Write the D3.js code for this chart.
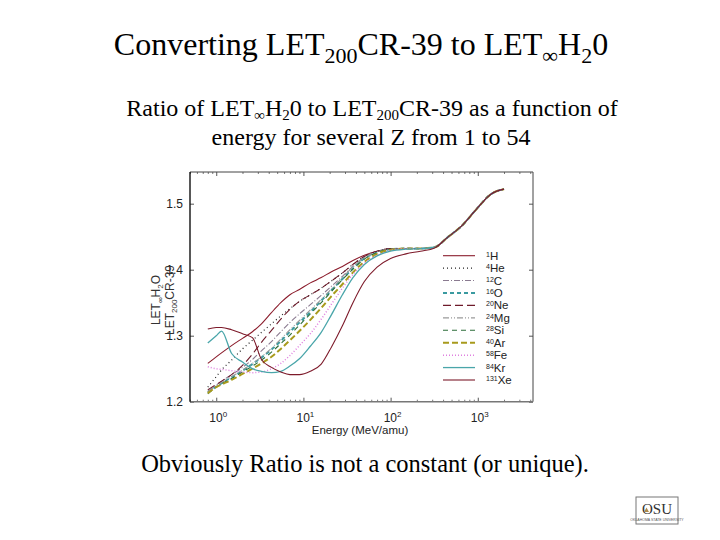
<!DOCTYPE html>
<html>
<head>
<meta charset="utf-8">
<script src="https://cdn.jsdelivr.net/npm/d3@7"></script>
<style>
  body { margin: 0; background: #fff; }
  svg { display: block; }
</style>
</head>
<body>
<script>
// energies (MeV/amu) shared by every curve
var energies = [0.8, 1.0, 1.15, 1.5, 2, 2.6, 3.3, 4.3, 5.5, 7, 9, 12, 16, 21, 28, 37, 50, 70, 100, 150, 220, 320, 450, 650, 1000, 1400, 2000];

// ratio LET_inf(H2O) / LET_200(CR-39)
var ratioH  = [1.258, 1.268, 1.274, 1.285, 1.296, 1.306, 1.318, 1.335, 1.350, 1.362, 1.370, 1.380, 1.388, 1.397, 1.405, 1.414, 1.422, 1.428, 1.431, 1.432, 1.432, 1.434, 1.449, 1.466, 1.494, 1.514, 1.522];
var ratioHe = [1.222, 1.238, 1.248, 1.263, 1.280, 1.293, 1.305, 1.318, 1.330, 1.341, 1.352, 1.362, 1.372, 1.383, 1.395, 1.408, 1.420, 1.428, 1.432, 1.432, 1.432, 1.434, 1.449, 1.466, 1.494, 1.514, 1.522];
var ratioC  = [1.216, 1.225, 1.231, 1.241, 1.252, 1.264, 1.277, 1.291, 1.306, 1.320, 1.333, 1.347, 1.361, 1.375, 1.390, 1.405, 1.419, 1.428, 1.432, 1.432, 1.432, 1.434, 1.449, 1.466, 1.494, 1.514, 1.522];
var ratioO  = [1.214, 1.223, 1.228, 1.237, 1.247, 1.257, 1.267, 1.279, 1.292, 1.306, 1.320, 1.336, 1.353, 1.369, 1.386, 1.402, 1.417, 1.426, 1.431, 1.432, 1.432, 1.434, 1.449, 1.466, 1.494, 1.514, 1.522];
var ratioNe = [1.218, 1.226, 1.231, 1.241, 1.255, 1.272, 1.290, 1.308, 1.325, 1.340, 1.352, 1.362, 1.372, 1.383, 1.395, 1.408, 1.420, 1.428, 1.432, 1.432, 1.432, 1.434, 1.449, 1.466, 1.494, 1.514, 1.522];
var ratioMg = [1.215, 1.224, 1.229, 1.238, 1.248, 1.258, 1.268, 1.281, 1.295, 1.309, 1.323, 1.339, 1.355, 1.371, 1.388, 1.404, 1.418, 1.427, 1.431, 1.432, 1.432, 1.434, 1.449, 1.466, 1.494, 1.514, 1.522];
var ratioSi = [1.212, 1.222, 1.227, 1.235, 1.245, 1.254, 1.263, 1.275, 1.288, 1.301, 1.316, 1.333, 1.350, 1.367, 1.385, 1.401, 1.416, 1.426, 1.431, 1.432, 1.432, 1.434, 1.449, 1.466, 1.494, 1.514, 1.522];
var ratioAr = [1.213, 1.222, 1.226, 1.233, 1.242, 1.250, 1.258, 1.268, 1.280, 1.293, 1.307, 1.324, 1.342, 1.360, 1.378, 1.396, 1.412, 1.424, 1.430, 1.432, 1.432, 1.434, 1.449, 1.466, 1.494, 1.514, 1.522];
var ratioFe = [1.253, 1.250, 1.249, 1.247, 1.245, 1.244, 1.245, 1.250, 1.258, 1.270, 1.285, 1.303, 1.325, 1.348, 1.372, 1.393, 1.410, 1.422, 1.429, 1.432, 1.432, 1.434, 1.449, 1.466, 1.494, 1.514, 1.522];
var ratioKr = [1.289, 1.300, 1.307, 1.273, 1.260, 1.250, 1.246, 1.244, 1.246, 1.254, 1.265, 1.284, 1.305, 1.332, 1.362, 1.388, 1.408, 1.421, 1.428, 1.431, 1.432, 1.434, 1.449, 1.466, 1.494, 1.514, 1.522];
var ratioXe = [1.310, 1.3125, 1.3125, 1.309, 1.303, 1.297, 1.264, 1.252, 1.245, 1.241, 1.241, 1.246, 1.257, 1.283, 1.315, 1.350, 1.382, 1.404, 1.417, 1.424, 1.428, 1.433, 1.449, 1.466, 1.494, 1.514, 1.522];

var massNumbers = ["1", "4", "12", "16", "20", "24", "28", "40", "58", "84", "131"];
var elements = ["H", "He", "C", "O", "Ne", "Mg", "Si", "Ar", "Fe", "Kr", "Xe"];
var yTicks = [1.2, 1.3, 1.4, 1.5];
var xDecades = [1, 10, 100, 1000];
var xDecadeExp = ["0", "1", "2", "3"];

var allRatios = [ratioH, ratioHe, ratioC, ratioO, ratioNe, ratioMg, ratioSi, ratioAr, ratioFe, ratioKr, ratioXe];

// line look for each nuclide, in legend order
var styles = [
	{ color: "#8b1c2c", width: 1.1, dash: null },
	{ color: "#222222", width: 1.2, dash: "1,3" },
	{ color: "#8a7a90", width: 1.1, dash: "6,2,1,2" },
	{ color: "#3a9aa0", width: 2, dash: "4,3" },
	{ color: "#6e1a2a", width: 1.1, dash: "8,4" },
	{ color: "#9a9a9a", width: 1.1, dash: "6,2,1,2,1,2" },
	{ color: "#2d6e3a", width: 1.1, dash: "5,4" },
	{ color: "#a89a1c", width: 2, dash: "6,3" },
	{ color: "#e080e0", width: 1.5, dash: "1,2" },
	{ color: "#4aa6aa", width: 1.3, dash: null },
	{ color: "#7d1a2a", width: 1.1, dash: null }
];

var width = 720, height = 540;
var plot = { left: 190, right: 533, top: 172, bottom: 401.7 };

var svg = d3.select("body").append("svg")
	.attr("width", width)
	.attr("height", height);

var serif = "'Liberation Serif', 'Times New Roman', serif";
var sans = "'Liberation Sans', Arial, sans-serif";

// --- slide texts
var title = svg.append("text")
	.attr("x", 361).attr("y", 55)
	.attr("text-anchor", "middle")
	.style("font-family", serif).style("font-size", "32px").attr("fill", "#000");
title.append("tspan").text("Converting LET");
title.append("tspan").text("200").attr("dy", 8).style("font-size", "22px");
title.append("tspan").text("CR-39 to LET").attr("dy", -8);
title.append("tspan").text("\u221e").attr("dy", 8).style("font-size", "22px");
title.append("tspan").text("H").attr("dy", -8);
title.append("tspan").text("2").attr("dy", 8).style("font-size", "22px");
title.append("tspan").text("0").attr("dy", -8);

var sub1 = svg.append("text")
	.attr("x", 372).attr("y", 116)
	.attr("text-anchor", "middle")
	.style("font-family", serif).style("font-size", "24px").attr("fill", "#000");
sub1.append("tspan").text("Ratio of LET");
sub1.append("tspan").text("\u221e").attr("dy", 4).style("font-size", "15px");
sub1.append("tspan").text("H").attr("dy", -4);
sub1.append("tspan").text("2").attr("dy", 4).style("font-size", "15px");
sub1.append("tspan").text("0 to LET").attr("dy", -4);
sub1.append("tspan").text("200").attr("dy", 4).style("font-size", "15px");
sub1.append("tspan").text("CR-39 as a function of").attr("dy", -4);

svg.append("text")
	.attr("x", 371).attr("y", 145)
	.attr("text-anchor", "middle")
	.style("font-family", serif).style("font-size", "24px").attr("fill", "#000")
	.text("energy for several Z from 1 to 54");

svg.append("text")
	.attr("x", 365).attr("y", 472)
	.attr("text-anchor", "middle")
	.style("font-family", serif).style("font-size", "24.5px").attr("fill", "#000")
	.text("Obviously Ratio is not a constant (or unique).");

// --- scales
var x = d3.scaleLog().domain([0.5, 4300]).range([plot.left, plot.right]);
var y = d3.scaleLinear().domain([1.2, 1.548]).range([plot.bottom, plot.top]);

// --- frame and ticks
var g = svg.append("g");

var minorTicks = [];
[0.1, 1, 10, 100, 1000].forEach(function (dec) {
	for (var k = 2; k <= 9; k++) {
		var v = dec * k;
		if (v >= 0.5 && v <= 4300) minorTicks.push(v);
	}
});

function inward(axis, pos, values, size, color) {
	g.append("g")
		.attr("transform", pos)
		.call(axis.tickValues(values).tickSize(-size).tickFormat(""))
		.call(function (a) { a.select(".domain").remove(); a.selectAll("line").attr("stroke", color); });
}

inward(d3.axisBottom(x), "translate(0," + plot.bottom + ")", xDecades, 4, "#555");
inward(d3.axisBottom(x), "translate(0," + plot.bottom + ")", minorTicks, 2, "#777");
inward(d3.axisTop(x), "translate(0," + plot.top + ")", xDecades, 4, "#555");
inward(d3.axisTop(x), "translate(0," + plot.top + ")", minorTicks, 2, "#777");
inward(d3.axisLeft(y), "translate(" + plot.left + ",0)", yTicks, 4, "#555");
inward(d3.axisRight(y), "translate(" + plot.right + ",0)", yTicks, 4, "#555");

// box
g.append("line").attr("x1", plot.left).attr("x2", plot.right).attr("y1", plot.top).attr("y2", plot.top)
	.attr("stroke", "#444").attr("stroke-width", 1);
g.append("line").attr("x1", plot.right).attr("x2", plot.right).attr("y1", plot.top).attr("y2", plot.bottom)
	.attr("stroke", "#444").attr("stroke-width", 1);
g.append("line").attr("x1", plot.left).attr("x2", plot.right).attr("y1", plot.bottom).attr("y2", plot.bottom)
	.attr("stroke", "#777").attr("stroke-width", 1.5);
g.append("line").attr("x1", plot.left).attr("x2", plot.left).attr("y1", plot.top).attr("y2", plot.bottom)
	.attr("stroke", "#111").attr("stroke-width", 1.4);

// y tick labels
g.selectAll("text.ytick")
	.data(yTicks)
	.enter()
	.append("text")
	.attr("class", "ytick")
	.attr("x", plot.left - 7)
	.attr("y", function (d) { return y(d) + 4; })
	.attr("text-anchor", "end")
	.style("font-family", sans).style("font-size", "12px").attr("fill", "#222")
	.text(function (d) { return d.toFixed(1); });

// x tick labels 10^n
var xl = g.selectAll("text.xtick")
	.data(xDecades)
	.enter()
	.append("text")
	.attr("class", "xtick")
	.attr("x", function (d) { return x(d) + 2; })
	.attr("y", plot.bottom + 20)
	.attr("text-anchor", "middle")
	.style("font-family", sans).style("font-size", "12px").attr("fill", "#222");
xl.append("tspan").text("10");
xl.append("tspan").text(function (d, i) { return xDecadeExp[i]; })
	.attr("dy", -5).style("font-size", "8px");

g.append("text")
	.attr("x", 360).attr("y", plot.bottom + 32)
	.attr("text-anchor", "middle")
	.style("font-family", sans).style("font-size", "11.5px").attr("fill", "#222")
	.text("Energy (MeV/amu)");

// y label (rotated fraction, partly hidden in the original)
var yl1 = g.append("text")
	.attr("transform", "translate(160,300) rotate(-90)")
	.attr("text-anchor", "middle")
	.style("font-family", sans).style("font-size", "12px").attr("fill", "#333");
yl1.append("tspan").text("LET");
yl1.append("tspan").text("\u221e").attr("dy", 3).style("font-size", "8px");
yl1.append("tspan").text("H").attr("dy", -3);
yl1.append("tspan").text("2").attr("dy", 3).style("font-size", "8px");
yl1.append("tspan").text("O").attr("dy", -3);
var yl2 = g.append("text")
	.attr("transform", "translate(174,300) rotate(-90)")
	.attr("text-anchor", "middle")
	.style("font-family", sans).style("font-size", "12px").attr("fill", "#333");
yl2.append("tspan").text("LET");
yl2.append("tspan").text("200").attr("dy", 3).style("font-size", "8px");
yl2.append("tspan").text("CR-39").attr("dy", -3);

// --- curves
var line = d3.line()
	.x(function (d) { return x(d.e); })
	.y(function (d) { return y(d.r); })
	.curve(d3.curveMonotoneX);

var series = allRatios.map(function (vals, i) {
	return {
		name: elements[i],
		style: styles[i],
		points: energies.map(function (e, j) { return { e: e, r: vals[j] }; })
	};
});

svg.append("g").selectAll("path")
	.data(series)
	.enter()
	.append("path")
	.attr("d", function (d) { return line(d.points); })
	.attr("fill", "none")
	.attr("stroke", function (d) { return d.style.color; })
	.attr("stroke-width", function (d) { return d.style.width; })
	.attr("stroke-dasharray", function (d) { return d.style.dash; });

// --- legend
var legend = svg.append("g").selectAll("g")
	.data(series)
	.enter()
	.append("g")
	.attr("transform", function (d, i) { return "translate(443," + (255.7 + i * 12.43) + ")"; });

legend.append("line")
	.attr("x1", 0).attr("x2", 32)
	.attr("stroke", function (d) { return d.style.color; })
	.attr("stroke-width", function (d) { return d.style.width; })
	.attr("stroke-dasharray", function (d) { return d.style.dash; });

var lt = legend.append("text")
	.attr("x", 43).attr("y", 4)
	.style("font-family", sans).style("font-size", "11.5px").attr("fill", "#222");
lt.append("tspan").text(function (d, i) { return massNumbers[i]; })
	.attr("dy", -3).style("font-size", "7px");
lt.append("tspan").text(function (d) { return d.name; }).attr("dy", 3);

// --- OSU mark
var logo = svg.append("g").attr("transform", "translate(636,497)");
logo.append("rect").attr("width", 42).attr("height", 27)
	.attr("fill", "#fff").attr("stroke", "#777").attr("stroke-width", 1);
logo.append("text").attr("x", 21).attr("y", 17).attr("text-anchor", "middle")
	.style("font-family", serif).style("font-size", "15px").attr("fill", "#333").text("OSU");
logo.append("path").attr("d", "M8,15 L10.5,10.5 L13,15 Z").attr("fill", "#b08a4a");
logo.append("text").attr("x", 21).attr("y", 24).attr("text-anchor", "middle")
	.style("font-family", sans).style("font-size", "3.5px").attr("fill", "#555")
	.text("OKLAHOMA STATE UNIVERSITY");
</script>
</body>
</html>
